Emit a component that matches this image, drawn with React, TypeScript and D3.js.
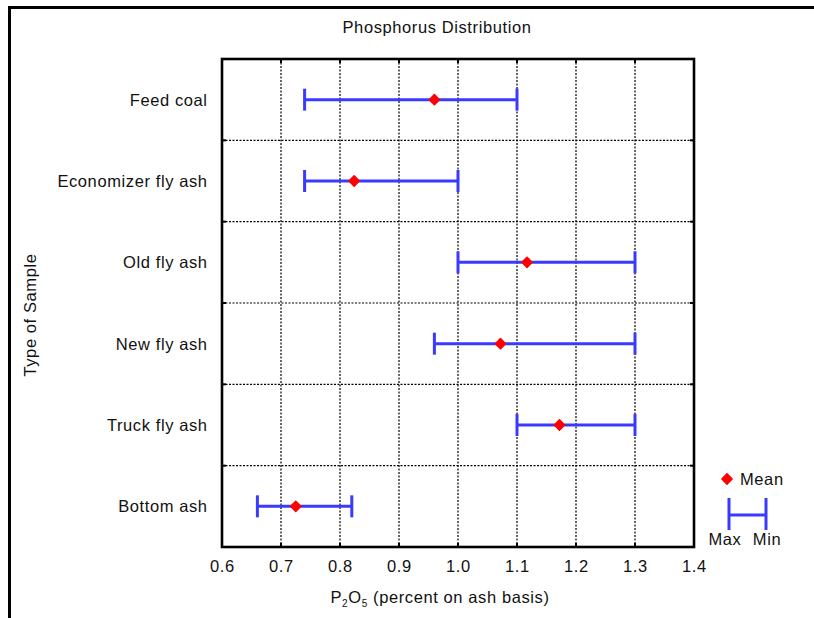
import React from "react";
import * as d3 from "d3";

const categories = [
  "Feed coal",
  "Economizer fly ash",
  "Old fly ash",
  "New fly ash",
  "Truck fly ash",
  "Bottom ash",
];
const minValues = [0.74, 0.74, 1.0, 0.96, 1.1, 0.66];
const maxValues = [1.1, 1.0, 1.3, 1.3, 1.3, 0.82];
const meanValues = [0.96, 0.824, 1.117, 1.072, 1.172, 0.725];
const xTicks = [0.6, 0.7, 0.8, 0.9, 1.0, 1.1, 1.2, 1.3, 1.4];

const W = 814;
const H = 618;
const L = 222, R = 694, T = 59, B = 547;
const FONT = "'Liberation Sans', Arial, Helvetica, sans-serif";
const BLUE = "#3a3aff";
const RED = "#ff0000";
const LS = 0.6;

export default function App() {
  const x = d3.scaleLinear().domain([0.6, 1.4]).range([L, R]);
  const y = d3.scaleBand<string>().domain(categories).range([T, B]).padding(0);
  const bw = y.bandwidth();
  const diamond = d3.symbol().type(d3.symbolSquare).size(52)() as string;
  const innerTicks = xTicks.slice(1, -1);
  const bounds = categories.slice(1).map((c) => y(c) as number);
  const capH = 11;

  return (
    <svg
      width={W}
      height={H}
      style={{ position: "absolute", left: 0, top: 0, background: "#fff" }}
      fontFamily={FONT}
      letterSpacing={LS}
    >
      <rect x={0} y={0} width={W} height={H} fill="#fff" />
      {/* outer frame */}
      <rect x={8} y={6} width={W - 8} height={3} fill="#000" />
      <rect x={8} y={6} width={3} height={H - 6} fill="#000" />

      {/* title */}
      <text x={437} y={33} fontSize={16.5} textAnchor="middle" fill="#111">
        Phosphorus Distribution
      </text>

      {/* grid */}
      {innerTicks.map((t) => (
        <line key={"gv" + t} x1={x(t)} x2={x(t)} y1={T} y2={B} stroke="#000" strokeWidth={1.2} strokeDasharray="2,1.5" />
      ))}
      {bounds.map((b, i) => (
        <line key={"gh" + i} x1={L} x2={R} y1={b} y2={b} stroke="#000" strokeWidth={1.2} strokeDasharray="2,1.5" />
      ))}
      {/* inner ticks */}
      {innerTicks.map((t) => (
        <g key={"tk" + t}>
          <line x1={x(t)} x2={x(t)} y1={T} y2={T + 4} stroke="#000" strokeWidth={2} />
          <line x1={x(t)} x2={x(t)} y1={B} y2={B - 4} stroke="#000" strokeWidth={2} />
        </g>
      ))}
      {bounds.map((b, i) => (
        <g key={"tky" + i}>
          <line x1={L} x2={L + 4} y1={b} y2={b} stroke="#000" strokeWidth={2} />
          <line x1={R} x2={R - 4} y1={b} y2={b} stroke="#000" strokeWidth={2} />
        </g>
      ))}
      {/* plot frame */}
      <rect x={L} y={T} width={R - L} height={B - T} fill="none" stroke="#000" strokeWidth={2.6} />

      {/* error bars */}
      {categories.map((c, i) => {
        const cy = (y(c) as number) + bw / 2;
        return (
          <g key={c}>
            <line x1={x(minValues[i])} x2={x(maxValues[i])} y1={cy} y2={cy} stroke={BLUE} strokeWidth={3} />
            <line x1={x(minValues[i])} x2={x(minValues[i])} y1={cy - capH} y2={cy + capH} stroke={BLUE} strokeWidth={3} />
            <line x1={x(maxValues[i])} x2={x(maxValues[i])} y1={cy - capH} y2={cy + capH} stroke={BLUE} strokeWidth={3} />
            <path d={diamond} transform={`translate(${x(meanValues[i])},${cy}) rotate(45)`} fill={RED} stroke={RED} strokeWidth={1.5} strokeLinejoin="round" />
            <text x={207 + LS} y={cy + 6} fontSize={16.5} textAnchor="end" fill="#111">
              {c}
            </text>
          </g>
        );
      })}

      {/* x tick labels */}
      {xTicks.map((t) => (
        <text key={"xl" + t} x={x(t) + LS / 2} y={572} fontSize={16.5} textAnchor="middle" fill="#111">
          {t.toFixed(1)}
        </text>
      ))}

      {/* x axis title */}
      <text x={440} y={603} fontSize={16.5} textAnchor="middle" fill="#111">
        <tspan>P</tspan>
        <tspan fontSize={10} dy={4}>2</tspan>
        <tspan dy={-4}>O</tspan>
        <tspan fontSize={10} dy={4}>5</tspan>
        <tspan dy={-4}> (percent on ash basis)</tspan>
      </text>

      {/* y axis title */}
      <text transform="translate(36,315) rotate(-90)" fontSize={16.5} textAnchor="middle" fill="#111">
        Type of Sample
      </text>

      {/* legend */}
      <path d={diamond} transform="translate(727,479) rotate(45)" fill={RED} stroke={RED} strokeWidth={1.5} strokeLinejoin="round" />
      <text x={740} y={485} fontSize={16.5} fill="#111">Mean</text>
      <line x1={729} x2={729} y1={498} y2={530} stroke={BLUE} strokeWidth={3} />
      <line x1={766} x2={766} y1={498} y2={530} stroke={BLUE} strokeWidth={3} />
      <line x1={729} x2={766} y1={515} y2={515} stroke={BLUE} strokeWidth={3} />
      <text x={725} y={545} fontSize={16.5} textAnchor="middle" fill="#111">Max</text>
      <text x={767} y={545} fontSize={16.5} textAnchor="middle" fill="#111">Min</text>
    </svg>
  );
}
